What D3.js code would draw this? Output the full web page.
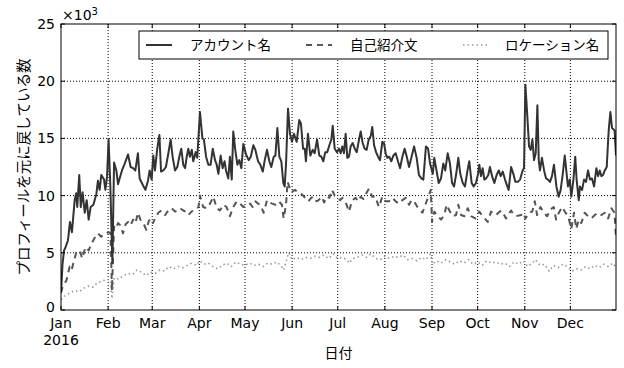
<!DOCTYPE html>
<html><head><meta charset="utf-8">
<script src="https://cdn.jsdelivr.net/npm/d3@7"></script>
<style>
html,body{margin:0;padding:0;background:#fff;}
svg text{font-family:"Noto Sans CJK JP","DejaVu Sans",sans-serif;}
svg text.tick{font-family:"DejaVu Sans",sans-serif;}
</style></head>
<body><svg id="c" width="624" height="368"></svg>
<script>
// ---- data (values in thousands, x = day offset from 2016-01-01) ----
const seriesNames = ["アカウント名", "自己紹介文", "ロケーション名"];
const monthLabels = ["Jan","Feb","Mar","Apr","May","Jun","Jul","Aug","Sep","Oct","Nov","Dec"];
const yTicks = [0, 5, 10, 15, 20, 25];

const acctDays = [0,1,2,3,4.6,5.9,7.2,9,10,10.7,12,13,14.2,15.6,16.9,18.2,19.5,21.3,23.2,24.3,25.4,26.5,28.3,29.2,30.3,31.3,32.4,33.8,34.9,36.4,37.5,38.8,40.1,41.9,44.1,45.8,47.4,48.9,50.6,51.7,53.9,55.5,57.2,58.3,59.6,60.7,61.8,63.3,64.7,65.8,67.3,69,70.6,72.1,73.4,75,76.5,77.8,79.1,80.4,81.6,82.7,83.7,84.8,86,87,88.6,89.6,91.4,93,94,95.4,96.9,98.4,99.8,101.3,102.4,103.5,105,106.3,107.6,108.5,110,111.1,112.3,113.3,114.6,116,117.3,118.6,119.9,121.7,123.4,124.8,126.5,127.8,129.6,131.1,132.7,134,135.5,137,138.3,139.9,141,142.3,143.6,144.9,146.2,147.1,148,149.3,150.6,151.9,153.2,155,156.7,157.8,159.2,160.3,161.1,162.4,164,165.5,166.8,168.4,169.9,171.2,172.5,173.8,175.1,176.5,177.8,178.7,180,181.5,182.8,183.9,185,186.1,187.2,188.3,189.4,190.5,191.8,193.2,194.5,196,197.1,198.4,199.7,201,202.4,203.7,204.7,205.9,207.2,208.5,209.8,211.3,212.4,213.5,214.6,215.9,217.2,218.6,220.1,221.6,223,224.5,226,227.4,228.9,230.4,232.2,233.9,235.4,237,238.3,240,241.4,242.7,244.5,245.5,247.1,248.4,249.9,251.4,252.7,254.3,255.8,257.2,258.5,259.8,261.3,262.6,264.2,265.7,267.2,268.5,270.1,271.4,272.9,274.3,275.1,276.2,277.3,278.4,279.5,281,282.1,283.5,285,286.5,287.9,289.2,290.5,292,293.3,294.4,296,297.5,298.8,300.4,301.9,303.6,304.5,305.4,306.7,307.8,308.9,310,311.1,312.2,313.3,314.2,315,316.3,317.7,319,320.3,321.6,322.9,324.2,325.8,327.3,328.6,330,331.3,332.3,333.4,334.6,335.6,337,338.2,339.1,340.5,341.3,342.7,344,345.3,346.6,347.9,349.2,350.6,352.1,353.2,354.3,355.4,356.5,357.6,358.9,360.2,361.3,362.4,364.1,365];
const acctVals = [1.5,4.0,5.2,5.5,6.1,7.7,6.8,9.6,10.2,9.0,11.8,9.0,10.3,8.5,9.6,7.9,9.0,9.2,10.1,11.3,10.5,11.8,11.4,10.5,11.7,14.9,11.0,4.1,12.9,12.2,11.0,11.6,12.2,12.8,13.6,12.5,12.4,12.2,13.7,11.5,10.9,10.5,11.3,12.2,11.4,13.5,12.2,14.1,15.3,12.1,12.2,12.5,13.7,14.9,13.4,12.2,12.5,13.4,14.1,12.7,12.4,13.4,14.1,13.4,14.0,13.0,13.8,13.3,17.3,15.0,14.9,13.4,12.7,12.7,14.1,13.1,12.7,11.9,13.5,12.4,13.0,12.2,11.5,13.4,11.4,15.6,14.0,12.7,13.1,12.4,14.5,13.6,13.1,13.4,14.4,14.0,13.0,12.7,12.1,13.1,14.0,13.0,12.5,13.4,13.5,15.9,13.4,13.0,11.1,10.8,12.8,17.6,15.4,14.7,15.4,14.7,16.6,16.3,14.1,14.1,13.0,15.4,13.5,14.0,13.7,14.9,13.5,13.4,13.0,13.8,13.8,14.4,14.9,16.1,14.1,13.8,14.1,13.7,14.3,13.7,15.4,13.3,13.4,14.3,14.6,14.1,13.8,14.9,15.6,14.6,14.1,14.0,14.9,15.2,16.0,14.4,13.8,13.4,13.1,14.7,14.6,13.7,13.3,13.4,13.0,13.5,13.7,13.0,12.4,13.4,14.1,13.4,12.5,13.3,14.3,13.3,11.8,11.5,11.4,14.3,14.1,12.8,11.9,13.3,12.1,11.1,11.5,12.8,12.2,13.7,12.8,11.1,10.8,11.8,13.3,11.9,11.1,10.8,12.1,13.0,11.1,10.8,11.1,11.9,12.7,11.7,12.4,11.4,11.5,11.8,12.5,11.7,11.1,11.8,12.2,11.7,12.1,11.4,10.9,10.5,12.5,11.9,11.2,11.2,11.4,12.2,12.4,19.7,16.9,14.3,14.0,14.9,13.1,13.7,17.9,13.1,12.2,13.3,12.2,11.5,11.4,11.2,11.7,12.7,10.8,9.9,10.5,11.9,13.5,12.2,10.8,11.4,9.9,11.4,13.4,11.4,9.6,10.8,10.5,11.4,11.2,12.2,11.4,11.5,10.8,12.4,11.7,12.2,11.7,11.8,12.2,12.5,15.7,17.3,15.9,15.7,13.5];

const bioDays = [0,1,3.6,5.7,7,8.5,10,12.4,13.9,16.1,18.2,20,22.1,24.3,26.5,28,29.8,31.3,32.6,33.5,34.9,36,37.5,39,40.8,42.5,44.1,45.8,47.4,49,50.6,52.8,54.5,56.1,57.8,59.4,60.5,61.8,64,66,68.5,70.6,72.8,75,76.5,78.2,80.4,82,83.7,85.9,87.5,89,90.4,91.4,93.5,95.8,98,100.2,102.4,104.5,106.7,108.9,111.1,113.3,115.6,117.8,119.9,122.2,124.4,126,127.8,129.5,131.1,133.3,135.5,137,138.8,141,143.2,145.3,146.4,148,149,151.4,154,156.2,158.5,160.6,162.8,164.5,166.1,168,169.4,171.6,173,174.9,176.5,178.2,180,181.5,183.5,185,187,189.4,191.5,193.8,195.5,197.1,198.8,200.3,202.5,204.7,206.9,208,209.1,211.3,213.5,215.7,217.9,220.1,222.3,224.5,226.7,228.9,230.5,232.2,234.4,236.6,237.7,239.9,242.1,243.2,244,245.5,247.7,249.9,252.1,253.6,255.4,257.6,259.8,261.3,263.1,265.3,267.5,269.7,272.5,275.1,277.3,280.6,282.8,284.5,286.1,289.4,291,292.7,296,297.5,299.3,302.6,303.8,305.5,307.7,309.9,311.6,313.1,315.3,317.5,319.7,321.9,324.1,325.6,327.4,329.6,331.3,333.5,335.6,337.4,338.9,340.5,342.2,344.4,346.6,348.8,351,353.2,355.4,357.6,359.8,362,364,365];
const bioVals = [1.5,2.0,2.6,3.8,3.5,4.3,5.0,5.2,4.5,5.5,5.2,5.8,6.3,6.7,6.4,6.6,6.7,6.8,6.7,1.7,7.3,7.1,7.6,7.4,6.7,7.5,7.7,7.4,7.9,7.6,8.5,7.7,7.5,7.0,7.8,8.0,7.6,8.0,8.5,8.7,8.3,8.7,8.9,8.6,8.7,8.9,8.7,8.6,8.3,8.6,8.8,8.9,9.0,10.0,9.0,8.9,9.3,9.9,8.9,8.7,9.2,9.0,8.2,9.0,9.5,9.3,9.0,9.2,9.3,9.0,9.5,9.3,9.2,8.5,9.6,9.4,9.3,9.2,9.5,9.2,8.0,9.2,11.2,10.3,10.5,10.2,10.1,9.8,9.5,9.8,9.9,9.5,9.6,9.9,9.4,9.9,9.8,10.5,10.0,9.9,9.6,9.8,9.5,8.6,9.6,9.8,9.5,9.9,9.7,10.1,10.6,9.9,9.9,9.4,9.0,9.9,9.5,9.5,9.8,9.5,9.3,9.6,9.8,9.2,9.6,9.5,9.0,8.7,8.5,9.3,10.1,10.5,7.7,8.6,8.2,7.9,8.3,9.2,8.7,8.2,8.3,9.2,8.3,8.2,8.9,8.2,8.0,8.6,8.2,7.7,8.6,8.4,8.3,8.7,8.4,8.0,8.7,8.4,8.2,8.3,8.5,8.0,8.5,8.6,9.5,8.3,9.0,8.5,8.2,8.8,9.0,7.9,8.5,9.0,8.6,8.2,7.1,8.5,7.1,7.9,7.6,8.5,8.2,8.0,8.3,8.5,8.3,8.5,8.0,8.9,8.5,6.4];

const locDays = [0,3,6,9,12,15,18,21,24,27,30,32.5,33.5,35,38,41,44,47,50,53,56,59,62,65,68,71,74,77,80,83,86,89,91.4,94,97,100,103,106,109,112,115,118,121,124,127,130,133,136,139,142,145,146.4,149.7,152,155,158,161,164,167,170,173,176,179,182,185,188,189.5,192,195,198,201,203.7,207,210,213,216,219,222,225,228,231,234,237,240,243,244.5,247,250,253,256,259,262,265,268,271,274,277,280,283,286,289,292,295,298,301,304,307,310,312,315,318,321,324,327,330,333,336,339,342,345,348,351,354,357,360,363,365];
const locVals = [0.9,1.3,1.5,1.7,1.6,1.9,2.1,2.0,2.4,2.5,2.7,2.6,1.0,2.8,2.7,3.0,3.2,3.1,3.5,3.3,3.0,3.3,3.2,3.5,3.4,3.8,3.6,3.8,3.7,3.9,4.1,3.9,4.3,4.0,4.1,3.8,3.6,3.9,4.1,3.8,4.2,4.0,3.9,4.1,3.9,4.0,3.8,4.1,4.0,4.2,3.8,3.5,5.0,4.4,4.6,4.4,4.6,4.5,4.7,4.6,4.8,4.5,4.9,4.5,4.6,4.4,4.1,4.5,4.6,4.8,4.6,4.9,4.5,4.4,4.7,4.5,4.7,4.6,4.8,4.4,4.5,4.3,4.6,4.4,4.9,4.0,4.3,4.1,4.4,4.2,4.0,4.3,4.1,4.4,4.0,4.2,3.9,4.3,4.1,4.2,4.0,4.1,3.8,4.2,4.0,4.3,3.8,4.1,4.4,3.9,4.0,3.4,3.9,3.7,4.0,3.8,3.4,3.6,3.5,3.8,3.6,3.9,3.7,4.0,3.8,4.1,3.7];

// ---- layout ----
const L = 61, R = 616, T = 24, B = 310;
const svg = d3.select("#c");
const t0 = Date.UTC(2016, 0, 1);
const toDate = d => new Date(t0 + d * 864e5);

const x = d3.scaleUtc().domain([new Date(t0), toDate(365)]).range([L, R]);
const y = d3.scaleLinear().domain([0, 25]).range([B, T]);
const monthTicks = d3.utcMonth.range(new Date(t0), toDate(366));

// grid
const grid = svg.append("g");
grid.selectAll("line.gx").data(monthTicks.slice(1)).join("line")
  .attr("x1", d => x(d)).attr("x2", d => x(d)).attr("y1", T).attr("y2", B)
  .attr("stroke", "#000").attr("stroke-width", 1).attr("stroke-dasharray", "1,2");
grid.selectAll("line.gy").data(yTicks.slice(1, -1)).join("line")
  .attr("x1", L).attr("x2", R).attr("y1", d => y(d)).attr("y2", d => y(d))
  .attr("stroke", "#000").attr("stroke-width", 1).attr("stroke-dasharray", "1,2");

// lines
svg.append("clipPath").attr("id", "pc").append("rect")
  .attr("x", L).attr("y", T).attr("width", R - L).attr("height", B - T);
const lineGen = d3.line().x(d => x(toDate(d[0]))).y(d => y(d[1]));
const series = [
  {days: locDays, vals: locVals, color: "#999", w: 1.6, dash: "1.5,3"},
  {days: bioDays, vals: bioVals, color: "#555", w: 2, dash: "6,5"},
  {days: acctDays, vals: acctVals, color: "#333", w: 2, dash: null}
];
const lg = svg.append("g").attr("clip-path", "url(#pc)");
series.forEach(s => {
  const pts = s.days.map((d, i) => [d, s.vals[i]]);
  lg.append("path").attr("d", lineGen(pts)).attr("fill", "none")
    .attr("stroke", s.color).attr("stroke-width", s.w)
    .attr("stroke-linejoin", "round")
    .attr("stroke-dasharray", s.dash);
});

// frame
svg.append("rect").attr("x", L).attr("y", T).attr("width", R - L).attr("height", B - T)
  .attr("fill", "none").attr("stroke", "#000").attr("stroke-width", 1);

// ticks inward on all sides
const tk = svg.append("g").attr("stroke", "#000").attr("stroke-width", 1);
monthTicks.forEach(d => {
  tk.append("line").attr("x1", x(d)).attr("x2", x(d)).attr("y1", B).attr("y2", B - 4);
  tk.append("line").attr("x1", x(d)).attr("x2", x(d)).attr("y1", T).attr("y2", T + 4);
});
yTicks.forEach(v => {
  tk.append("line").attr("x1", L).attr("x2", L + 4).attr("y1", y(v)).attr("y2", y(v));
  tk.append("line").attr("x1", R).attr("x2", R - 4).attr("y1", y(v)).attr("y2", y(v));
});

// tick labels
svg.append("g").selectAll("text").data(monthTicks).join("text")
  .attr("class", "tick")
  .attr("x", d => x(d)).attr("y", 328).attr("text-anchor", "middle")
  .attr("font-size", 14).attr("fill", "#000")
  .text((d, i) => monthLabels[i]);
svg.append("text").attr("class", "tick").attr("x", x(monthTicks[0])).attr("y", 345)
  .attr("text-anchor", "middle").attr("font-size", 14).text("2016");
svg.append("g").selectAll("text").data(yTicks).join("text")
  .attr("class", "tick")
  .attr("x", 55).attr("y", d => d === 0 ? y(d) + 2 : y(d) + 5).attr("text-anchor", "end")
  .attr("font-size", 14).text(d => d);
const mult = svg.append("text").attr("class", "tick").attr("x", 62).attr("y", 20).attr("font-size", 14);
mult.append("tspan").text("×10");
mult.append("tspan").attr("font-size", 10).attr("dy", -5).text("3");

// axis labels
svg.append("text").attr("x", 338.5).attr("y", 358).attr("text-anchor", "middle")
  .attr("font-size", 14).text("日付");
svg.append("text").attr("transform", `translate(29,${(T + B) / 2}) rotate(-90)`)
  .attr("text-anchor", "middle").attr("font-size", 14.5).text("プロフィールを元に戻している数");

// legend
const leg = svg.append("g");
leg.append("rect").attr("x", 139).attr("y", 31).attr("width", 469).attr("height", 28)
  .attr("fill", "#fff").attr("stroke", "#000").attr("stroke-width", 1);
const legItems = [
  {sx: 146, tx: 190, s: series[2]},
  {sx: 306, tx: 350, s: series[1]},
  {sx: 463, tx: 505, s: series[0]}
];
legItems.forEach((it, i) => {
  leg.append("line").attr("x1", it.sx).attr("x2", it.sx + 26).attr("y1", 45).attr("y2", 45)
    .attr("stroke", it.s.color).attr("stroke-width", it.s.w).attr("stroke-dasharray", it.s.dash);
  leg.append("text").attr("x", it.tx).attr("y", 50).attr("font-size", 13.5).text(seriesNames[i]);
});
</script></body></html>
